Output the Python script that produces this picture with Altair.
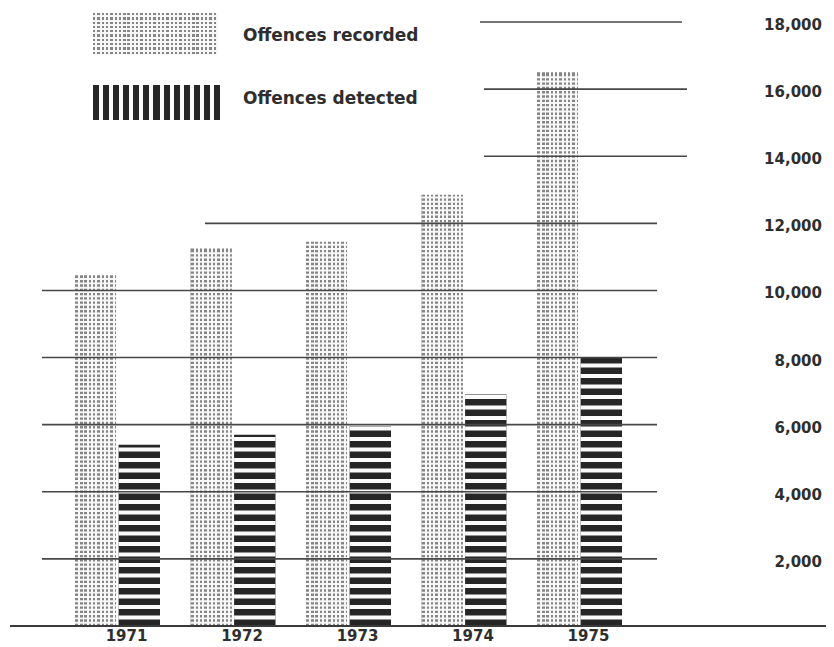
import altair as alt
import pandas as pd

# ---------------- data ----------------
years = ["1971", "1972", "1973", "1974", "1975"]
recorded = [10450, 11250, 11450, 12850, 16500]
detected = [5400, 5700, 5950, 6900, 8000]
series_names = ["Offences recorded", "Offences detected"]
tick_values = [2000, 4000, 6000, 8000, 10000, 12000, 14000, 16000, 18000]
tick_labels = ["2,000", "4,000", "6,000", "8,000", "10,000",
               "12,000", "14,000", "16,000", "18,000"]

rows = []
for yr, r, d in zip(years, recorded, detected):
    rows.append({"year": yr, "series": series_names[0], "value": r})
    rows.append({"year": yr, "series": series_names[1], "value": d})
bars_df = pd.DataFrame(rows)
ticks_df = pd.DataFrame({"value": tick_values, "label": tick_labels})
legend_df = pd.DataFrame({"label": series_names})
years_df = pd.DataFrame({"year": years})
base_df = pd.DataFrame({"base": [0]})

# ---------------- styling helpers ----------------
FONT = "DejaVu Sans"
TXT = "#2e2e2e"
DOT = "#858585"
PAPER = "#f7f7f7"
INK = "#262626"


def stripes(n_periods, dark_frac, dark, light, horizontal=True, phase=0.0):
    stops = []
    i = 0
    while True:
        a = (i + phase) / n_periods
        b = (i + phase + dark_frac) / n_periods
        c = (i + 1 + phase) / n_periods
        if a >= 1:
            break
        a = max(a, 0.0)
        b = min(b, 1.0)
        c = min(c, 1.0)
        stops += [alt.GradientStop(color=dark, offset=a),
                  alt.GradientStop(color=dark, offset=b),
                  alt.GradientStop(color=light, offset=b),
                  alt.GradientStop(color=light, offset=c)]
        i += 1
    if horizontal:
        return alt.LinearGradient(gradient="linear", stops=stops, x1=0, x2=1, y1=0, y2=0)
    return alt.LinearGradient(gradient="linear", stops=stops, x1=0, x2=0, y1=0, y2=1)


x_scale = alt.Scale(domain=years, range=[67, 614], paddingInner=0.264, paddingOuter=0)
xo_scale = alt.Scale(domain=series_names, paddingInner=0.05)
y_scale = alt.Scale(domain=[0, 18000], range=[618, 14], nice=False, zero=True)

X = alt.X("year:N", scale=x_scale, axis=None)
XO = alt.XOffset("series:N", scale=xo_scale)

rec_filter = alt.datum.series == series_names[0]
det_filter = alt.datum.series == series_names[1]

# recorded bars (stipple)
rec_bars = alt.Chart(bars_df).transform_filter(rec_filter).mark_bar(
    fill=stripes(9.6, 0.55, DOT, PAPER, horizontal=True, phase=0.2)
).encode(x=X, xOffset=XO, y=alt.Y("value:Q", scale=y_scale, axis=None))

rec_bands = alt.Chart(bars_df).transform_filter(rec_filter).transform_calculate(
    band="sequence(70, datum.value - 58, 128)"
).transform_flatten(["band"]).transform_calculate(
    band_end="datum.band + 58"
).mark_bar(color=PAPER).encode(
    x=X, xOffset=XO, y=alt.Y("band:Q", scale=y_scale, axis=None), y2="band_end:Q"
)

# detected bars (horizontal stripes)
det_bars = alt.Chart(bars_df).transform_filter(det_filter).mark_bar(color=INK).encode(
    x=X, xOffset=XO, y=alt.Y("value:Q", scale=y_scale, axis=None)
)
det_bands = alt.Chart(bars_df).transform_filter(det_filter).transform_calculate(
    band="sequence(194, datum.value - 119, 313)"
).transform_flatten(["band"]).transform_calculate(
    band_end="datum.band + 119"
).mark_bar(color="#fbfbfb").encode(
    x=X, xOffset=XO, y=alt.Y("band:Q", scale=y_scale, axis=None), y2="band_end:Q"
)


# gridlines (partial, as in the original)
def grid(vals, x0, x1):
    return alt.Chart(ticks_df).transform_filter(
        alt.FieldOneOfPredicate(field="value", oneOf=vals)
    ).mark_rule(color="#474747", strokeWidth=1.6).encode(
        y=alt.Y("value:Q", scale=y_scale, axis=None),
        x=alt.value(x0), x2=alt.value(x1)
    )


grid_low = grid([2000, 4000, 6000, 8000, 10000], 34, 649)
grid_12 = grid([12000], 197, 649)
grid_1416 = grid([14000, 16000], 476, 679)
grid_18 = grid([18000], 472, 674)

baseline = alt.Chart(base_df).mark_rule(color="#3a3a3a", strokeWidth=1.8).encode(
    y=alt.Y("base:Q", scale=y_scale, axis=None), x=alt.value(2), x2=alt.value(818)
)

y_labels = alt.Chart(ticks_df).mark_text(
    align="right", baseline="middle", font=FONT, fontWeight="bold",
    fontSize=15, color=TXT, dy=3
).encode(y=alt.Y("value:Q", scale=y_scale, axis=None), x=alt.value(814), text="label:N")

year_labels = alt.Chart(years_df).mark_text(
    align="center", baseline="middle", font=FONT, fontWeight="bold",
    fontSize=15, color=TXT, dx=9
).encode(x=X, y=alt.value(628), text="year:N")

# legend
leg_rec = alt.Chart(legend_df).transform_filter(alt.datum.label == series_names[0]).mark_rect(
    fill=stripes(29, 0.55, DOT, PAPER, horizontal=True)
).encode(x=alt.value(85), x2=alt.value(210), y=alt.value(5), y2=alt.value(47))
leg_rec_over = alt.Chart(legend_df).transform_filter(alt.datum.label == series_names[0]).mark_rect(
    fill=stripes(9.8, 0.55, "rgba(255,255,255,0)", PAPER, horizontal=False)
).encode(x=alt.value(85), x2=alt.value(210), y=alt.value(5), y2=alt.value(47))
leg_det = alt.Chart(legend_df).transform_filter(alt.datum.label == series_names[1]).mark_rect(
    fill=stripes(12.6, 0.6, INK, "#fbfbfb", horizontal=True)
).encode(x=alt.value(85), x2=alt.value(212), y=alt.value(77), y2=alt.value(112))


def leg_label(name, ypos):
    return alt.Chart(legend_df).transform_filter(alt.datum.label == name).mark_text(
        align="left", baseline="middle", font=FONT, fontWeight="bold", fontSize=17, color=TXT
    ).encode(x=alt.value(235), y=alt.value(ypos), text="label:N")


leg_text_rec = leg_label(series_names[0], 28)
leg_text_det = leg_label(series_names[1], 91)

chart = alt.layer(
    rec_bars, rec_bands, det_bars, det_bands,
    grid_low, grid_12, grid_1416, grid_18, baseline,
    y_labels, year_labels,
    leg_rec, leg_rec_over, leg_det, leg_text_rec, leg_text_det
).resolve_scale(y="independent").properties(
    width=818, height=639,
    autosize=alt.AutoSizeParams(type="none"),
    padding=0,
    background="white"
).configure_view(stroke=None)

chart.save("out.html", embed_options={"renderer": "svg", "actions": False})
